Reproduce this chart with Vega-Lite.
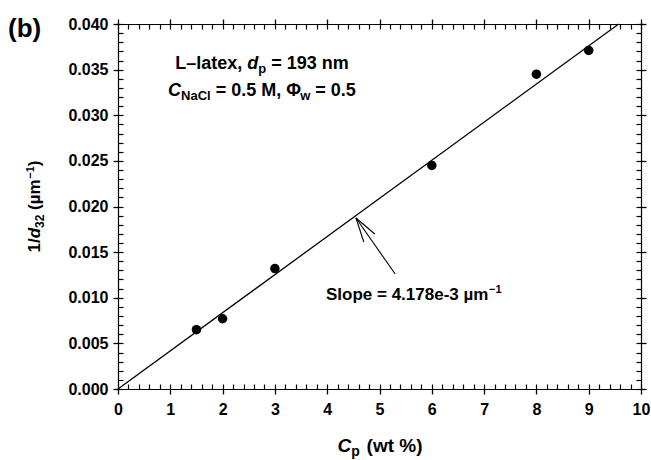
{
  "$schema": "https://vega.github.io/schema/vega-lite/v6.json",
  "width": 523,
  "height": 365,
  "autosize": {"type": "none"},
  "padding": {"left": 118, "top": 24, "right": 10, "bottom": 71},
  "background": "white",
  "config": {"view": {"stroke": null}, "font": "Liberation Sans"},
  "resolve": {"axis": {"x": "independent", "y": "independent"}},
  "layer": [
    {
      "data": {"values": [
        {"x": 1.5, "y": 0.0065},
        {"x": 2, "y": 0.0077},
        {"x": 3, "y": 0.0132},
        {"x": 6, "y": 0.0245},
        {"x": 8, "y": 0.0345},
        {"x": 9, "y": 0.0371}
      ]},
      "mark": {"type": "point", "shape": "circle", "filled": true, "color": "black", "opacity": 1, "size": 90},
      "encoding": {
        "x": {"field": "x", "type": "quantitative", "scale": {"domain": [0, 10], "nice": false, "zero": false},
          "axis": {"orient": "bottom", "title": null, "grid": false,
            "values": [0,1,2,3,4,5,6,7,8,9,10], "format": "d",
            "labelFont": "Liberation Sans", "labelFontSize": 16, "labelFontWeight": "bold", "labelColor": "black",
            "labelPadding": 7, "labelOverlap": false, "labelFlush": false, "labelBound": false,
            "domainColor": "black", "domainWidth": 1.2, "tickColor": "black", "tickWidth": 1.3, "tickSize": 5}},
        "y": {"field": "y", "type": "quantitative", "scale": {"domain": [0, 0.04], "nice": false, "zero": false},
          "axis": {"orient": "left", "title": null, "grid": false,
            "values": [0,0.005,0.01,0.015,0.02,0.025,0.03,0.035,0.04], "format": ".3f",
            "labelFont": "Liberation Sans", "labelFontSize": 16, "labelFontWeight": "bold", "labelColor": "black",
            "labelPadding": 5, "labelOverlap": false, "labelFlush": false, "labelBound": false,
            "domainColor": "black", "domainWidth": 1.2, "tickColor": "black", "tickWidth": 1.3, "tickSize": 5}}
      }
    },
    {
      "data": {"values": [
        {"x": 0, "y": 0},
        {"x": 9.574, "y": 0.04}
      ]},
      "mark": {"type": "line", "color": "black", "strokeWidth": 1.3},
      "encoding": {
        "x": {"field": "x", "type": "quantitative", "scale": {"domain": [0, 10], "nice": false, "zero": false},
          "axis": {"orient": "top", "title": null, "grid": false, "labels": false,
            "values": [0,1,2,3,4,5,6,7,8,9,10],
            "domainColor": "black", "domainWidth": 1.2, "tickColor": "black", "tickWidth": 1.3, "tickSize": 5}},
        "y": {"field": "y", "type": "quantitative", "scale": {"domain": [0, 0.04], "nice": false, "zero": false},
          "axis": {"orient": "right", "title": null, "grid": false, "labels": false,
            "values": [0,0.005,0.01,0.015,0.02,0.025,0.03,0.035,0.04],
            "domainColor": "black", "domainWidth": 1.2, "tickColor": "black", "tickWidth": 1.3, "tickSize": 5}}
      }
    },
    {
      "data": {"values": [
        {"x": 5.30, "y": 0.0126, "x2": 4.55, "y2": 0.01874},
        {"x": 4.70, "y": 0.01611, "x2": 4.55, "y2": 0.01874},
        {"x": 4.91, "y": 0.01699, "x2": 4.55, "y2": 0.01874}
      ]},
      "mark": {"type": "rule", "color": "black", "strokeWidth": 1.1},
      "encoding": {
        "x": {"field": "x", "type": "quantitative", "scale": {"domain": [0, 10], "nice": false, "zero": false},
          "axis": {"orient": "bottom", "title": null, "grid": false, "labels": false, "domain": false, "offset": -5,
            "values": [0,0.2,0.4,0.6,0.8,1,1.2,1.4,1.6,1.8,2,2.2,2.4,2.6,2.8,3,3.2,3.4,3.6,3.8,4,4.2,4.4,4.6,4.8,5,5.2,5.4,5.6,5.8,6,6.2,6.4,6.6,6.8,7,7.2,7.4,7.6,7.8,8,8.2,8.4,8.6,8.8,9,9.2,9.4,9.6,9.8,10],
            "tickColor": "black", "tickWidth": 1.2, "tickSize": 5}},
        "y": {"field": "y", "type": "quantitative", "scale": {"domain": [0, 0.04], "nice": false, "zero": false},
          "axis": {"orient": "left", "title": null, "grid": false, "labels": false, "domain": false, "offset": -5,
            "values": [0,0.001,0.002,0.003,0.004,0.005,0.006,0.007,0.008,0.009,0.01,0.011,0.012,0.013,0.014,0.015,0.016,0.017,0.018,0.019,0.02,0.021,0.022,0.023,0.024,0.025,0.026,0.027,0.028,0.029,0.03,0.031,0.032,0.033,0.034,0.035,0.036,0.037,0.038,0.039,0.04],
            "tickColor": "black", "tickWidth": 1.2, "tickSize": 5}},
        "x2": {"field": "x2"},
        "y2": {"field": "y2"}
      }
    },
    {
      "data": {"values": [
        {"x": -2.103, "y": 0.03858, "t": "(b)"}
      ]},
      "mark": {"type": "text", "align": "left", "baseline": "alphabetic", "font": "Liberation Sans", "fontSize": 26, "fontWeight": "bold", "color": "black"},
      "encoding": {
        "x": {"field": "x", "type": "quantitative", "scale": {"domain": [0, 10], "nice": false, "zero": false},
          "axis": {"orient": "top", "title": null, "grid": false, "labels": false, "domain": false, "offset": -5,
            "values": [0,0.2,0.4,0.6,0.8,1,1.2,1.4,1.6,1.8,2,2.2,2.4,2.6,2.8,3,3.2,3.4,3.6,3.8,4,4.2,4.4,4.6,4.8,5,5.2,5.4,5.6,5.8,6,6.2,6.4,6.6,6.8,7,7.2,7.4,7.6,7.8,8,8.2,8.4,8.6,8.8,9,9.2,9.4,9.6,9.8,10],
            "tickColor": "black", "tickWidth": 1.2, "tickSize": 5}},
        "y": {"field": "y", "type": "quantitative", "scale": {"domain": [0, 0.04], "nice": false, "zero": false},
          "axis": {"orient": "right", "title": null, "grid": false, "labels": false, "domain": false, "offset": -5,
            "values": [0,0.001,0.002,0.003,0.004,0.005,0.006,0.007,0.008,0.009,0.01,0.011,0.012,0.013,0.014,0.015,0.016,0.017,0.018,0.019,0.02,0.021,0.022,0.023,0.024,0.025,0.026,0.027,0.028,0.029,0.03,0.031,0.032,0.033,0.034,0.035,0.036,0.037,0.038,0.039,0.04],
            "tickColor": "black", "tickWidth": 1.2, "tickSize": 5}},
        "text": {"field": "t"}
      }
    },
    {
      "data": {"values": [
        {"x": 1.096, "y": 0.03507, "t": "L–latex,"},
        {"x": 2.929, "y": 0.03507, "t": "= 193 nm"},
        {"x": 1.868, "y": 0.03211, "t": "= 0.5 M,"},
        {"x": 3.216, "y": 0.03211, "t": "Φ"},
        {"x": 3.772, "y": 0.03211, "t": "= 0.5"}
      ]},
      "mark": {"type": "text", "align": "left", "baseline": "alphabetic", "font": "Liberation Sans", "fontSize": 18, "fontWeight": "bold", "color": "black"},
      "encoding": {
        "x": {"field": "x", "type": "quantitative", "axis": null},
        "y": {"field": "y", "type": "quantitative", "axis": null},
        "text": {"field": "t"}
      }
    },
    {
      "data": {"values": [
        {"x": 2.472, "y": 0.03507, "t": "d"},
        {"x": 0.958, "y": 0.03211, "t": "C"}
      ]},
      "mark": {"type": "text", "align": "left", "baseline": "alphabetic", "font": "Liberation Sans", "fontSize": 18, "fontWeight": "bold", "fontStyle": "italic", "color": "black"},
      "encoding": {
        "x": {"field": "x", "type": "quantitative", "axis": null},
        "y": {"field": "y", "type": "quantitative", "axis": null},
        "text": {"field": "t"}
      }
    },
    {
      "data": {"values": [
        {"x": 2.683, "y": 0.03458, "t": "p"},
        {"x": 1.206, "y": 0.03162, "t": "NaCl"},
        {"x": 3.484, "y": 0.03162, "t": "w"}
      ]},
      "mark": {"type": "text", "align": "left", "baseline": "alphabetic", "font": "Liberation Sans", "fontSize": 13, "fontWeight": "bold", "color": "black"},
      "encoding": {
        "x": {"field": "x", "type": "quantitative", "axis": null},
        "y": {"field": "y", "type": "quantitative", "axis": null},
        "text": {"field": "t"}
      }
    },
    {
      "data": {"values": [
        {"x": 3.977, "y": 0.00975, "t": "Slope = 4.178e-3 µm"}
      ]},
      "mark": {"type": "text", "align": "left", "baseline": "alphabetic", "font": "Liberation Sans", "fontSize": 17, "fontWeight": "bold", "color": "black"},
      "encoding": {
        "x": {"field": "x", "type": "quantitative", "axis": null},
        "y": {"field": "y", "type": "quantitative", "axis": null},
        "text": {"field": "t"}
      }
    },
    {
      "data": {"values": [
        {"x": 7.094, "y": 0.01052, "t": "−1"}
      ]},
      "mark": {"type": "text", "align": "left", "baseline": "alphabetic", "font": "Liberation Sans", "fontSize": 11, "fontWeight": "bold", "color": "black"},
      "encoding": {
        "x": {"field": "x", "type": "quantitative", "axis": null},
        "y": {"field": "y", "type": "quantitative", "axis": null},
        "text": {"field": "t"}
      }
    },
    {
      "data": {"values": [
        {"x": 4.197, "y": -0.0069, "t": "C"}
      ]},
      "mark": {"type": "text", "align": "left", "baseline": "alphabetic", "font": "Liberation Sans", "fontSize": 19, "fontWeight": "bold", "fontStyle": "italic", "color": "black"},
      "encoding": {
        "x": {"field": "x", "type": "quantitative", "axis": null},
        "y": {"field": "y", "type": "quantitative", "axis": null},
        "text": {"field": "t"}
      }
    },
    {
      "data": {"values": [
        {"x": 4.459, "y": -0.00734, "t": "p"}
      ]},
      "mark": {"type": "text", "align": "left", "baseline": "alphabetic", "font": "Liberation Sans", "fontSize": 14, "fontWeight": "bold", "color": "black"},
      "encoding": {
        "x": {"field": "x", "type": "quantitative", "axis": null},
        "y": {"field": "y", "type": "quantitative", "axis": null},
        "text": {"field": "t"}
      }
    },
    {
      "data": {"values": [
        {"x": 4.753, "y": -0.0069, "t": "(wt %)"}
      ]},
      "mark": {"type": "text", "align": "left", "baseline": "alphabetic", "font": "Liberation Sans", "fontSize": 19, "fontWeight": "bold", "color": "black"},
      "encoding": {
        "x": {"field": "x", "type": "quantitative", "axis": null},
        "y": {"field": "y", "type": "quantitative", "axis": null},
        "text": {"field": "t"}
      }
    },
    {
      "data": {"values": [
        {"x": -1.49, "y": 0.01496, "t": "1/"},
        {"x": -1.49, "y": 0.01963, "t": "(µm"},
        {"x": -1.49, "y": 0.02442, "t": ")"}
      ]},
      "mark": {"type": "text", "angle": 270, "align": "left", "baseline": "alphabetic", "font": "Liberation Sans", "fontSize": 17, "fontWeight": "bold", "color": "black"},
      "encoding": {
        "x": {"field": "x", "type": "quantitative", "axis": null},
        "y": {"field": "y", "type": "quantitative", "axis": null},
        "text": {"field": "t"}
      }
    },
    {
      "data": {"values": [
        {"x": -1.49, "y": 0.01652, "t": "d"}
      ]},
      "mark": {"type": "text", "angle": 270, "align": "left", "baseline": "alphabetic", "font": "Liberation Sans", "fontSize": 17, "fontWeight": "bold", "fontStyle": "italic", "color": "black"},
      "encoding": {
        "x": {"field": "x", "type": "quantitative", "axis": null},
        "y": {"field": "y", "type": "quantitative", "axis": null},
        "text": {"field": "t"}
      }
    },
    {
      "data": {"values": [
        {"x": -1.415, "y": 0.01765, "t": "32"}
      ]},
      "mark": {"type": "text", "angle": 270, "align": "left", "baseline": "alphabetic", "font": "Liberation Sans", "fontSize": 12, "fontWeight": "bold", "color": "black"},
      "encoding": {
        "x": {"field": "x", "type": "quantitative", "axis": null},
        "y": {"field": "y", "type": "quantitative", "axis": null},
        "text": {"field": "t"}
      }
    },
    {
      "data": {"values": [
        {"x": -1.606, "y": 0.02305, "t": "−1"}
      ]},
      "mark": {"type": "text", "angle": 270, "align": "left", "baseline": "alphabetic", "font": "Liberation Sans", "fontSize": 11, "fontWeight": "bold", "color": "black"},
      "encoding": {
        "x": {"field": "x", "type": "quantitative", "axis": null},
        "y": {"field": "y", "type": "quantitative", "axis": null},
        "text": {"field": "t"}
      }
    }
  ]
}
